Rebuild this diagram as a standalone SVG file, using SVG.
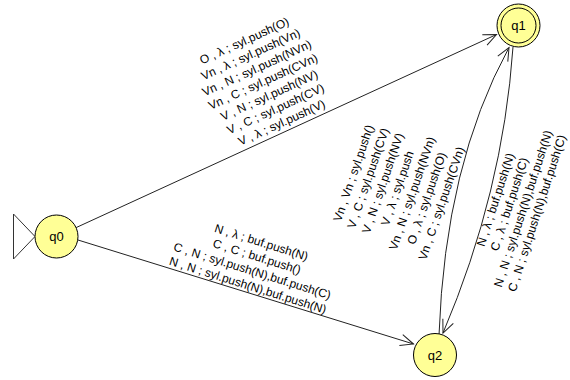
<svg xmlns="http://www.w3.org/2000/svg" width="570" height="380" viewBox="0 0 570 380">
<defs>
<style>
.st{fill:#ffff96;stroke:#000;stroke-width:1}
.sl{font-family:"Liberation Sans",Arial,sans-serif;font-size:13px;fill:#000;text-anchor:middle}
.e{fill:none;stroke:#222;stroke-width:1}
.lb{font-family:"Liberation Sans",Arial,sans-serif;font-size:12px;fill:#000;text-anchor:middle}
</style>
<marker id="arr" viewBox="0 0 14 12" markerWidth="14" markerHeight="12" refX="13" refY="5.7" orient="auto" markerUnits="userSpaceOnUse" overflow="visible">
<path d="M0,0 L13,5.7 L0,11.4" fill="none" stroke="#222" stroke-width="1"/>
</marker>
</defs>
<rect width="570" height="380" fill="#fff"/>
<g id="connectors">
<path class="e" d="M76.1,227.6 L496.5,34.5" marker-end="url(#arr)"/>
<path class="e" d="M78,240 L413.5,344" marker-end="url(#arr)"/>
<path class="e" d="M439,335 Q445,165 509,47.5" marker-end="url(#arr)"/>
<path class="e" d="M513,47 Q503,192 443,333" marker-end="url(#arr)"/>
</g>
<g id="labels">
<g transform="translate(285,130) rotate(-24.5)">
<text class="lb" x="0" y="-94">O , λ ; syl.push(O)</text>
<text class="lb" x="0" y="-79">Vn , λ ; syl.push(Vn)</text>
<text class="lb" x="0" y="-64">Vn , N ; syl.push(NVn)</text>
<text class="lb" x="0" y="-49">Vn , C ; syl.push(CVn)</text>
<text class="lb" x="0" y="-34">V , N ; syl.push(NV)</text>
<text class="lb" x="0" y="-19">V , C ; syl.push(CV)</text>
<text class="lb" x="0" y="-4">V , λ ; syl.push(V)</text>
</g>
<g transform="translate(245.75,292) rotate(17.4)">
<text class="lb" x="0" y="-48">N , λ ; buf.push(N)</text>
<text class="lb" x="0" y="-33">C , C ; buf.push()</text>
<text class="lb" x="0" y="-18">C , N ; syl.push(N),buf.push(C)</text>
<text class="lb" x="0" y="-3">N , N ; syl.push(N),buf.push(N)</text>
</g>
<g transform="translate(449,206) rotate(-71)">
<text class="lb" x="0" y="-97">Vn , Vn ; syl.push()</text>
<text class="lb" x="0" y="-81.5">V , C ; syl.push(CV)</text>
<text class="lb" x="0" y="-66">V , N ; syl.push(NV)</text>
<text class="lb" x="0" y="-50.5">V , λ ; syl.push</text>
<text class="lb" x="0" y="-35">Vn , N ; syl.push(NVn)</text>
<text class="lb" x="0" y="-19.5">O , λ ; syl.push(O)</text>
<text class="lb" x="0" y="-4">Vn , C ; syl.push(CVn)</text>
</g>
<g transform="translate(487,197) rotate(-72)">
<text class="lb" x="0" y="13">N , λ ; buf.push(N)</text>
<text class="lb" x="0" y="27.5">C , λ ; buf.push(C)</text>
<text class="lb" x="0" y="42">N , N ; syl.push(N),buf.push(N)</text>
<text class="lb" x="0" y="56.5">C , N ; syl.push(N),buf.push(C)</text>
</g>
</g>
<g id="q0">
<polygon points="13.5,214 35,236.5 13.5,259" fill="#fff" stroke="#333" stroke-width="1"/>
<circle class="st" cx="56.5" cy="236.5" r="21.5"/>
<text class="sl" x="56.5" y="241">q0</text>
</g>
<g id="q1">
<circle class="st" cx="518.5" cy="25.5" r="21.5"/>
<circle cx="518.5" cy="25.5" r="17.5" fill="none" stroke="#000" stroke-width="1"/>
<text class="sl" x="518.5" y="30">q1</text>
</g>
<g id="q2">
<circle class="st" cx="435" cy="355" r="21.5"/>
<text class="sl" x="435" y="359.5">q2</text>
</g>
</svg>
